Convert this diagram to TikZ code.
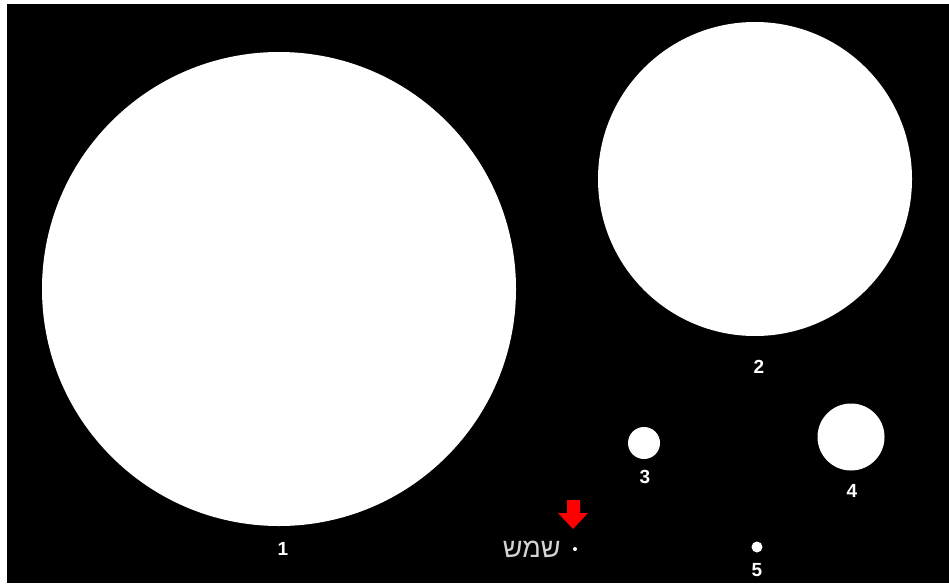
\documentclass[tikz,border=0pt]{standalone}
\usepackage{fontspec}
\setmainfont{Liberation Sans}
\newfontfamily\hebfont[Script=Hebrew]{Liberation Sans}
\TeXXeTstate=1
\usetikzlibrary{positioning}
\definecolor{sunGray}{HTML}{D4D4D4}
\definecolor{markRed}{HTML}{FF0000}

\begin{document}
\begin{tikzpicture}[x=1pt, y=-1pt,
  planet/.style={circle, fill=white, inner sep=0pt},
  num/.style={text=white, inner sep=0pt, font=\bfseries\fontsize{19}{19}\selectfont},
  sunlbl/.style={text=sunGray, inner sep=0pt, font=\hebfont\fontsize{27}{27}\selectfont}
]
  \useasboundingbox (0,0) rectangle (949,583);
  \fill[white] (0,0) rectangle (949,583);
  \fill[black] (7,4) rectangle (949,583);

  \node[planet, minimum size=474pt] (p1) at (279,289) {};
  \node[planet, minimum size=314pt] (p2) at (755,179) {};
  \node[planet, minimum size=32pt] (p3) at (644,443) {};
  \node[planet, minimum size=67pt] (p4) at (851,437) {};
  \node[planet, minimum size=11pt] (p5) at (757,547) {};
  \node[planet, minimum size=4pt] (sun) at (575,549) {};

  \node[num] (n1) at (283,549) {1};
  \node[num] (n2) at (759,367) {2};
  \node[num] (n3) at (645,477) {3};
  \node[num] (n4) at (852,491) {4};
  \node[num] (n5) at (757,570) {5};
  \node[sunlbl, left=12pt of sun] (sunname) {\beginR שמש\endR};

  % red pointer over the sun
  \fill[markRed] (567,500) -- (580,500) -- (580,513) -- (588,513) -- (573,529)
    -- (558,513) -- (567,513) -- cycle;
\end{tikzpicture}
\end{document}
